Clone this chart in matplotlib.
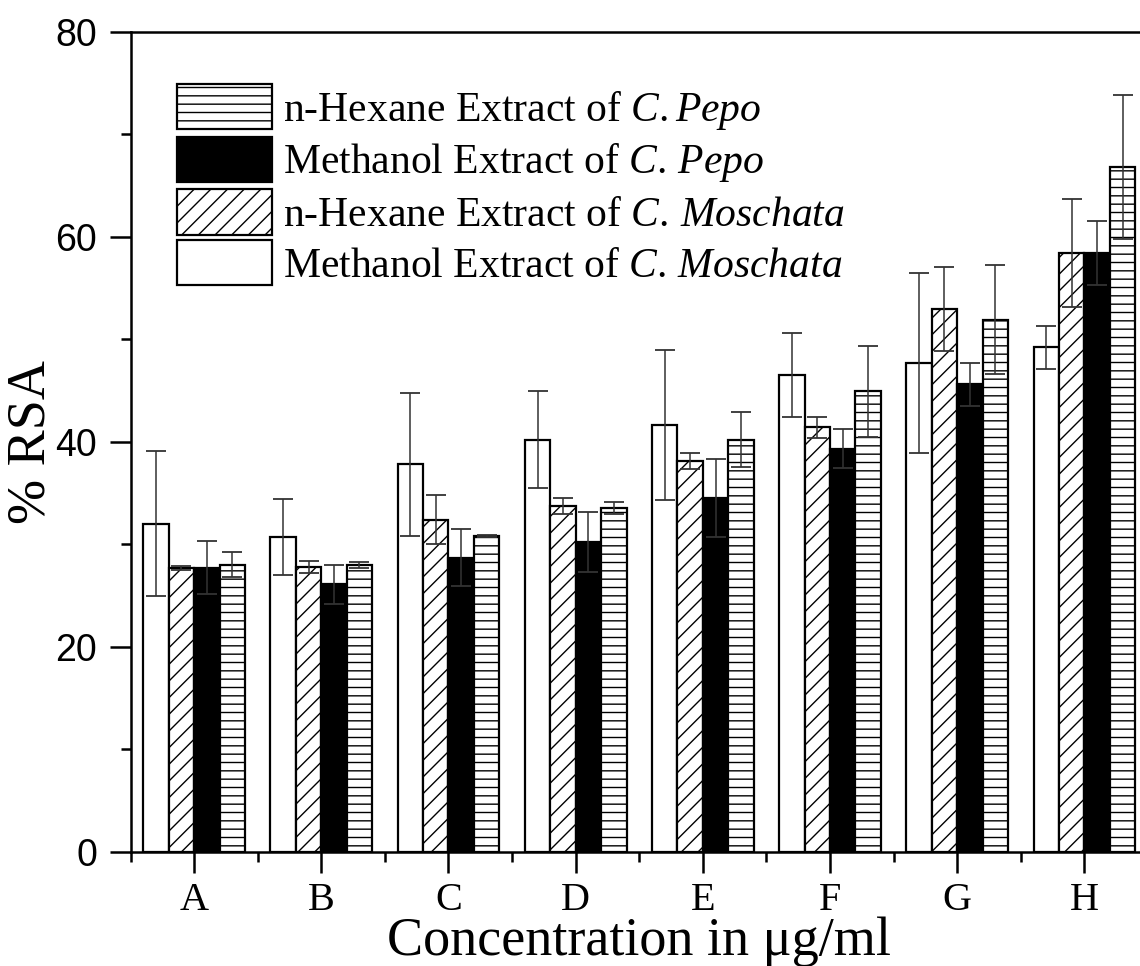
import numpy as np
import matplotlib
matplotlib.use("Agg")
import matplotlib.pyplot as plt

plt.rcParams['font.family'] = ['Liberation Serif', 'DejaVu Serif']
plt.rcParams['mathtext.fontset'] = 'custom'
plt.rcParams['mathtext.rm'] = 'Liberation Serif'
plt.rcParams['mathtext.it'] = 'Liberation Serif:italic'
plt.rcParams['hatch.linewidth'] = 1.0

# data
groups = ['A', 'B', 'C', 'D', 'E', 'F', 'G', 'H']

meth_mosch = [32.0, 30.7, 37.8, 40.2, 41.6, 46.5, 47.7, 49.2]
meth_mosch_err = [7.1, 3.7, 7.0, 4.7, 7.3, 4.1, 8.8, 2.1]

hex_mosch = [27.7, 27.8, 32.4, 33.7, 38.1, 41.4, 52.9, 58.4]
hex_mosch_err = [0.2, 0.6, 2.4, 0.8, 0.8, 1.0, 4.1, 5.3]

meth_pepo = [27.7, 26.1, 28.7, 30.2, 34.5, 39.3, 45.6, 58.4]
meth_pepo_err = [2.6, 1.9, 2.8, 2.9, 3.8, 1.9, 2.1, 3.1]

hex_pepo = [28.0, 28.0, 30.8, 33.5, 40.2, 44.9, 51.9, 66.8]
hex_pepo_err = [1.2, 0.3, 0.1, 0.6, 2.7, 4.4, 5.3, 7.0]

labels = [r'Methanol Extract of $\it{C.\/Moschata}$',
          r'n-Hexane Extract of $\it{C.\/Moschata}$',
          r'Methanol Extract of $\it{C.\/Pepo}$',
          r'n-Hexane Extract of $\it{C.Pepo}$']

series = [meth_mosch, hex_mosch, meth_pepo, hex_pepo]
errors = [meth_mosch_err, hex_mosch_err, meth_pepo_err, hex_pepo_err]
faces = ['white', 'white', 'black', 'white']
hatches = [None, '//', None, '--']

fig = plt.figure(figsize=(11.4, 9.66), dpi=100)
# right spine falls just outside the picture, as in the original
ax = fig.add_axes([0.1145, 0.1183, 0.8925, 0.8489])

x = np.arange(len(groups))
w = 0.2
offsets = [-1.5 * w, -0.5 * w, 0.5 * w, 1.5 * w]

handles = []
for vals, err, fc, h, lab, off in zip(series, errors, faces, hatches, labels, offsets):
    b = ax.bar(x + off, vals, w, color=fc, edgecolor='black', linewidth=1.6,
               hatch=h, label=lab, zorder=2)
    ax.errorbar(x + off, vals, yerr=err, fmt='none', ecolor='#333333',
                elinewidth=1.1, capsize=7, capthick=1.3, zorder=3)
    handles.append(b)

ax.set_xlim(-0.5, 7.5)
ax.set_ylim(0, 80)
ax.set_xticks(x)
ax.set_xticklabels(groups, fontsize=29)
ax.set_xticks(np.arange(-0.5, 8, 1), minor=True)
ax.set_yticks([0, 20, 40, 60, 80])
ax.set_yticks([10, 30, 50, 70], minor=True)
for t in ax.get_yticklabels():
    t.set_family('Liberation Sans')
    t.set_fontsize(27)

ax.tick_params(which='major', direction='out', length=15, width=1.8)
ax.tick_params(which='minor', direction='out', length=7, width=1.8)
ax.tick_params(axis='y', pad=9)
ax.tick_params(axis='x', pad=7)
for s in ax.spines.values():
    s.set_linewidth(1.8)

ax.set_xlabel('Concentration in μg/ml', fontsize=39)
ax.xaxis.label.set_va('baseline')
ax.xaxis.set_label_coords(0.5, -0.126)
ax.set_ylabel('% RSA', fontsize=39)
ax.yaxis.label.set_va('baseline')
ax.yaxis.set_label_coords(-0.085, 0.5)

leg = ax.legend(handles[::-1], labels[::-1], loc='upper left',
                bbox_to_anchor=(177 / 1140, 1 - 84 / 966),
                bbox_transform=fig.transFigure, frameon=False, fontsize=30,
                borderpad=0, borderaxespad=0, handlelength=2.28,
                handleheight=1.3, labelspacing=0.12, handletextpad=0.26)

plt.savefig('out.png', dpi=100)
